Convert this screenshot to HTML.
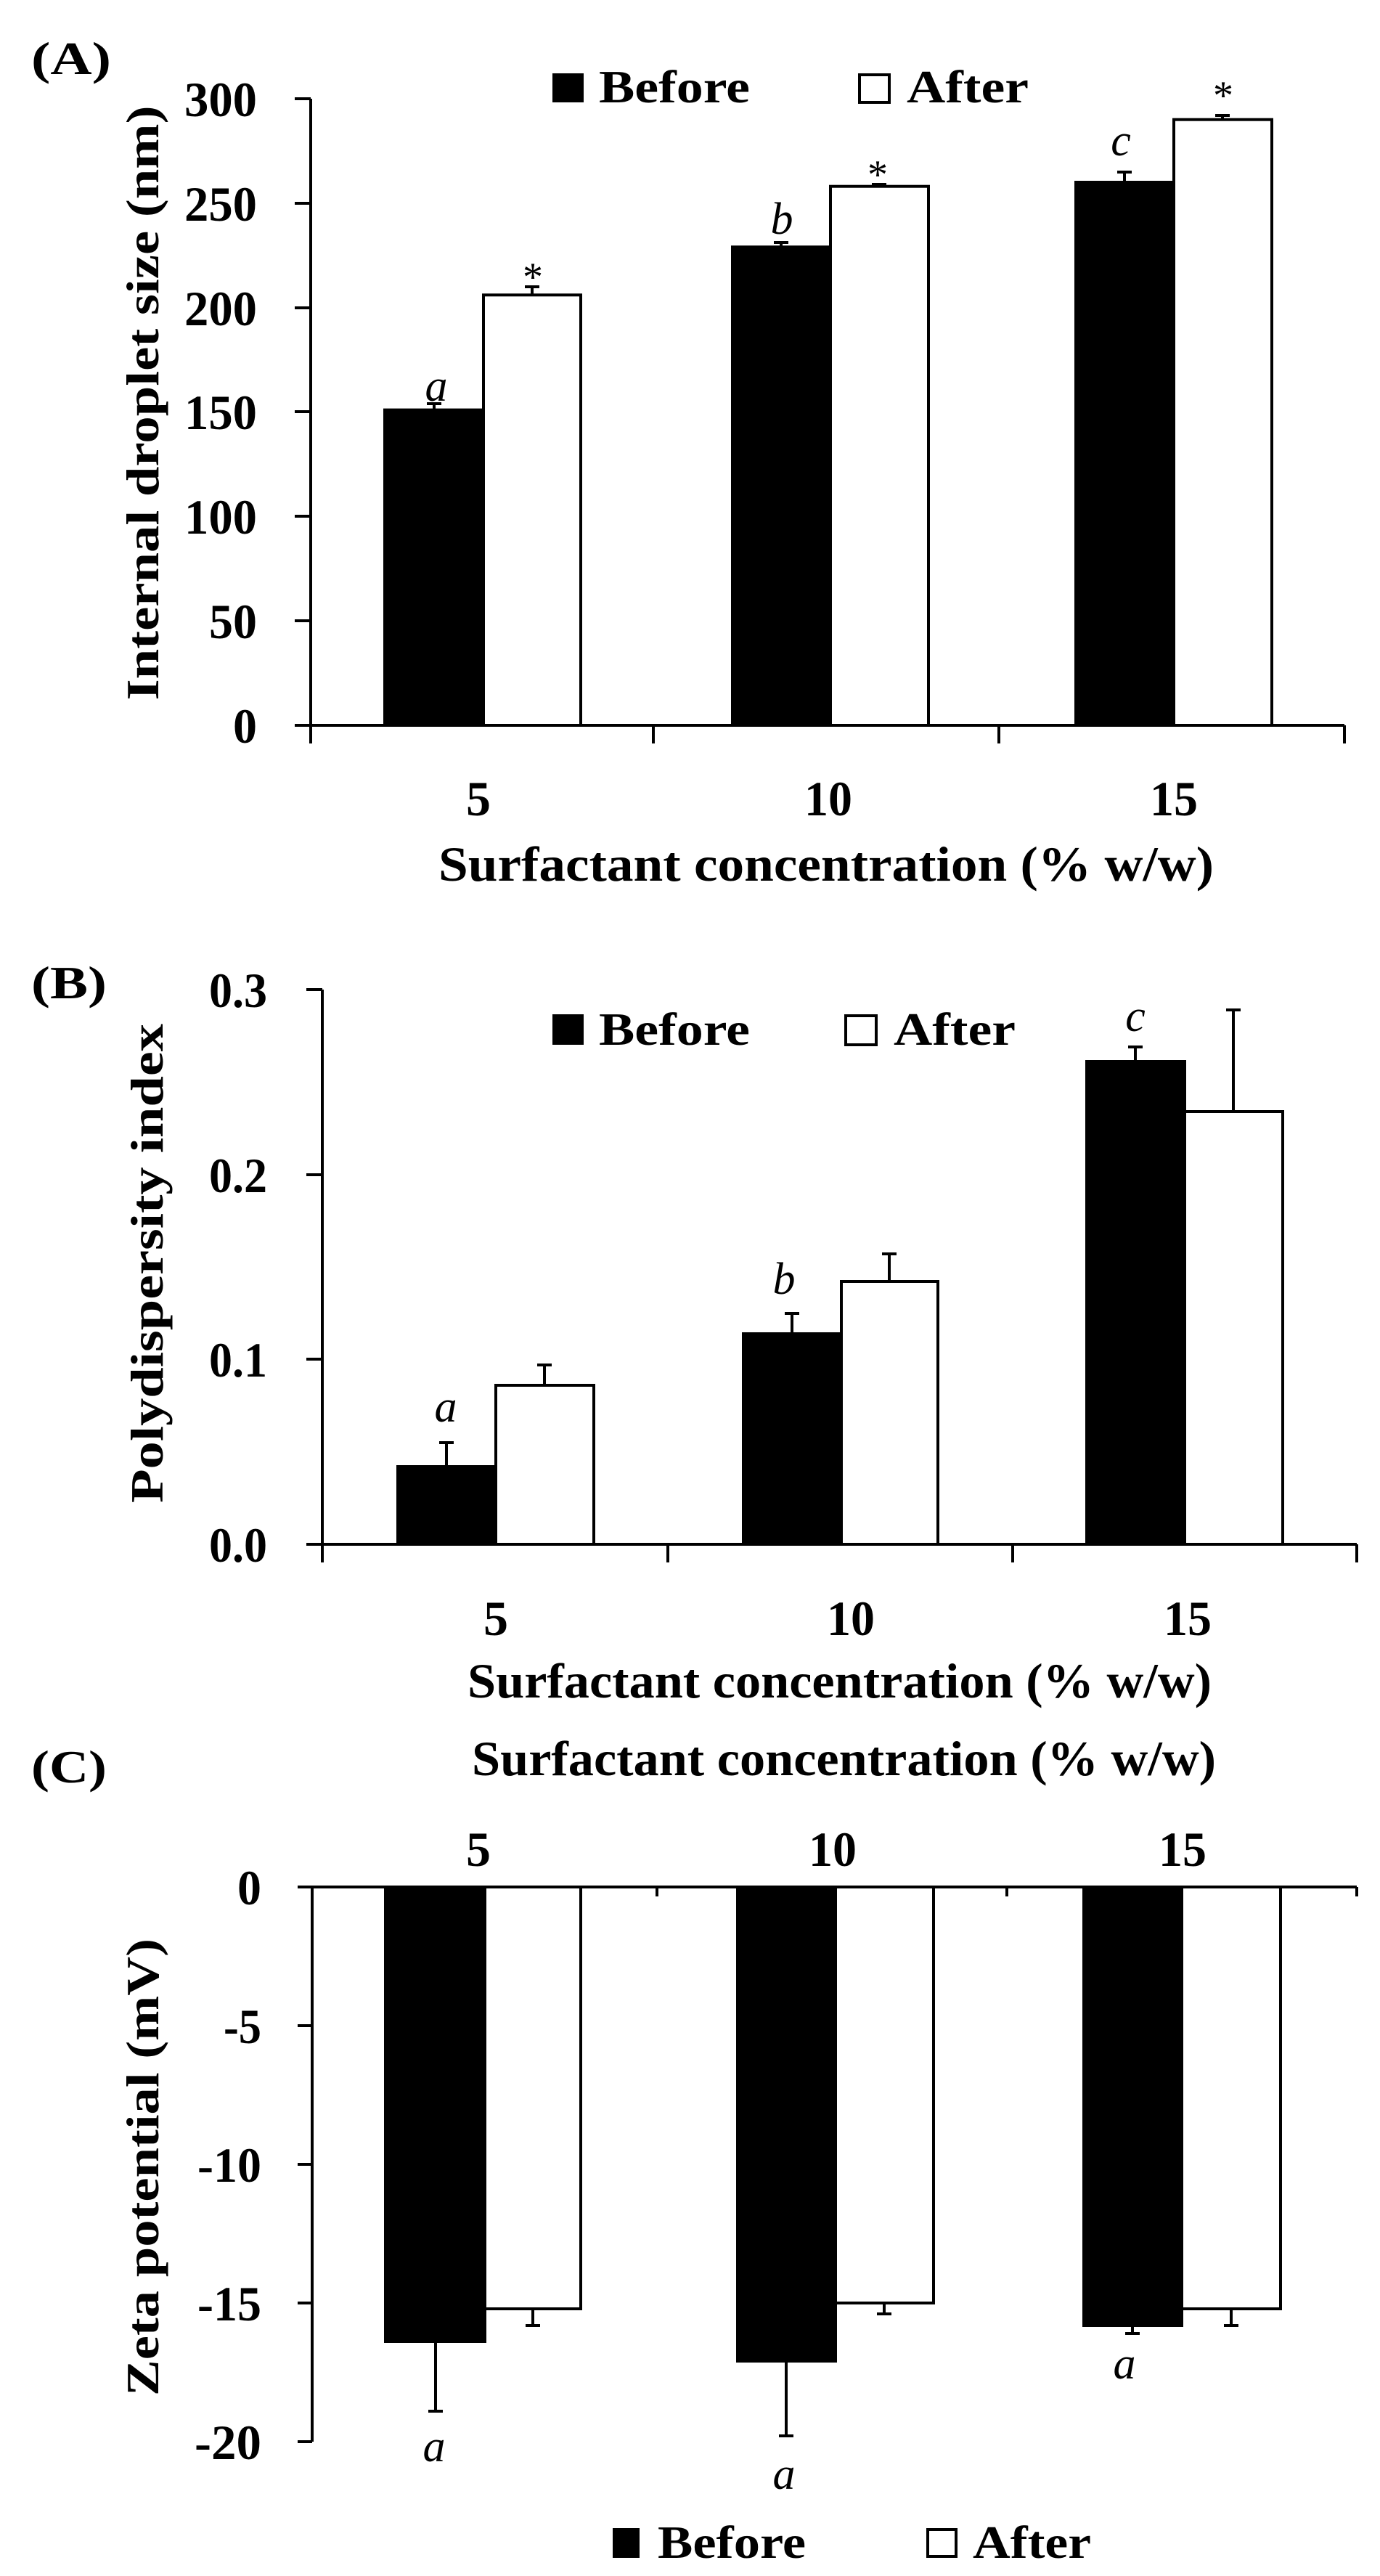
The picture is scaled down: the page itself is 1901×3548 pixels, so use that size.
<!DOCTYPE html>
<html><head><meta charset="utf-8"><style>
html,body{margin:0;padding:0;background:#fff}
svg{display:block}
text{font-family:"Liberation Serif",serif;font-weight:bold;fill:#000}
.t{font-size:68px}
.i{font-style:italic;font-weight:normal;font-size:62px}
</style></head><body>
<svg width="1901" height="3548" viewBox="0 0 1901 3548" xmlns="http://www.w3.org/2000/svg">
<rect width="1901" height="3548" fill="#fff"/>
<!-- ===== A ===== -->
<text x="43" y="102" font-size="64" textLength="110" lengthAdjust="spacingAndGlyphs">(A)</text>
<rect x="761" y="101" width="43" height="40" fill="#000"/>
<text x="825" y="141" font-size="64" textLength="208" lengthAdjust="spacingAndGlyphs">Before</text>
<rect x="1184" y="103" width="41" height="38" fill="#fff" stroke="#000" stroke-width="4"/>
<text x="1249" y="141" font-size="64" textLength="168" lengthAdjust="spacingAndGlyphs">After</text>
<text transform="translate(218,555) rotate(-90)" text-anchor="middle" font-size="64" textLength="819" lengthAdjust="spacingAndGlyphs">Internal droplet size (nm)</text>
<g class="t" text-anchor="end">
<text x="354" y="160" textLength="100" lengthAdjust="spacingAndGlyphs">300</text>
<text x="354" y="304" textLength="100" lengthAdjust="spacingAndGlyphs">250</text>
<text x="354" y="448" textLength="100" lengthAdjust="spacingAndGlyphs">200</text>
<text x="354" y="591" textLength="100" lengthAdjust="spacingAndGlyphs">150</text>
<text x="354" y="735" textLength="100" lengthAdjust="spacingAndGlyphs">100</text>
<text x="354" y="879" textLength="66" lengthAdjust="spacingAndGlyphs">50</text>
<text x="354" y="1023" textLength="33" lengthAdjust="spacingAndGlyphs">0</text>
</g>
<g stroke="#000" stroke-width="4" fill="none">
<path d="M428 136V999M406 136H428M406 280H428M406 424H428M406 567H428M406 711H428M406 855H428M406 999H1852M428 999V1024M900 999V1024M1376 999V1024M1852 999V1024"/>
</g>
<g stroke="#000" stroke-width="4">
<rect x="530" y="564.6" width="136" height="434.4" fill="#000"/>
<rect x="666" y="406.3" width="134" height="592.7" fill="#fff"/>
<rect x="1009" y="340.2" width="135" height="658.8" fill="#000"/>
<rect x="1144" y="256.7" width="135" height="742.3" fill="#fff"/>
<rect x="1482" y="251" width="135" height="748" fill="#000"/>
<rect x="1617" y="164.7" width="135" height="834.3" fill="#fff"/>
<path fill="none" d="M598 564V556M588 556H608M733 406V395M723 395H743M1076 340V334M1066 334H1086M1211 256V254M1201 254H1221M1549 251V237M1539 237H1559M1684 164V159M1674 159H1694"/>
</g>
<text class="i" x="601" y="552" text-anchor="middle">a</text>
<text class="i" x="1077" y="322" text-anchor="middle">b</text>
<text class="i" x="1544" y="214" text-anchor="middle">c</text>
<g font-size="56" font-weight="normal" text-anchor="middle"><text x="734" y="400" style="font-weight:normal">*</text><text x="1209" y="259" style="font-weight:normal">*</text><text x="1685" y="150" style="font-weight:normal">*</text></g>
<g class="t" text-anchor="middle">
<text x="659" y="1123" textLength="34" lengthAdjust="spacingAndGlyphs">5</text>
<text x="1141" y="1123" textLength="66" lengthAdjust="spacingAndGlyphs">10</text>
<text x="1617" y="1123" textLength="66" lengthAdjust="spacingAndGlyphs">15</text>
</g>
<text x="604" y="1213" font-size="68" textLength="1068" lengthAdjust="spacingAndGlyphs">Surfactant concentration (% w/w)</text>

<!-- ===== B ===== -->
<text x="43" y="1375" font-size="64" textLength="104" lengthAdjust="spacingAndGlyphs">(B)</text>
<rect x="761" y="1397" width="43" height="42" fill="#000"/>
<text x="825" y="1439" font-size="64" textLength="208" lengthAdjust="spacingAndGlyphs">Before</text>
<rect x="1165" y="1399" width="42" height="40" fill="#fff" stroke="#000" stroke-width="4"/>
<text x="1231" y="1439" font-size="64" textLength="168" lengthAdjust="spacingAndGlyphs">After</text>
<text transform="translate(224,1740) rotate(-90)" text-anchor="middle" font-size="64" textLength="660" lengthAdjust="spacingAndGlyphs">Polydispersity index</text>
<g class="t" text-anchor="end">
<text x="368" y="1387" textLength="80" lengthAdjust="spacingAndGlyphs">0.3</text>
<text x="368" y="1642" textLength="80" lengthAdjust="spacingAndGlyphs">0.2</text>
<text x="368" y="1896" textLength="80" lengthAdjust="spacingAndGlyphs">0.1</text>
<text x="368" y="2151" textLength="80" lengthAdjust="spacingAndGlyphs">0.0</text>
</g>
<g stroke="#000" stroke-width="4" fill="none">
<path d="M444 1363V2127M422 1363H444M422 1618H444M422 1872H444M422 2127H1869M444 2127V2152M920 2127V2152M1395 2127V2152M1869 2127V2152"/>
</g>
<g stroke="#000" stroke-width="4">
<rect x="548" y="2020" width="135" height="107" fill="#000"/>
<rect x="683" y="1908" width="135" height="219" fill="#fff"/>
<rect x="1024" y="1837" width="135" height="290" fill="#000"/>
<rect x="1159" y="1765" width="133" height="362" fill="#fff"/>
<rect x="1497" y="1462" width="135" height="665" fill="#000"/>
<rect x="1632" y="1531" width="135" height="596" fill="#fff"/>
<path fill="none" d="M615 2020V1987M605 1987H625M750 1908V1880M740 1880H760M1091 1837V1809M1081 1809H1101M1225 1765V1727M1215 1727H1235M1564 1462V1442M1554 1442H1574M1699 1531V1391M1689 1391H1709"/>
</g>
<text class="i" x="614" y="1958" text-anchor="middle">a</text>
<text class="i" x="1080" y="1782" text-anchor="middle">b</text>
<text class="i" x="1564" y="1420" text-anchor="middle">c</text>
<g class="t" text-anchor="middle">
<text x="683" y="2252" textLength="34" lengthAdjust="spacingAndGlyphs">5</text>
<text x="1172" y="2252" textLength="66" lengthAdjust="spacingAndGlyphs">10</text>
<text x="1636" y="2252" textLength="66" lengthAdjust="spacingAndGlyphs">15</text>
</g>
<text x="644" y="2338" font-size="68" textLength="1025" lengthAdjust="spacingAndGlyphs">Surfactant concentration (% w/w)</text>

<!-- ===== C ===== -->
<text x="43" y="2455" font-size="64" textLength="104" lengthAdjust="spacingAndGlyphs">(C)</text>
<text x="650" y="2445" font-size="68" textLength="1025" lengthAdjust="spacingAndGlyphs">Surfactant concentration (% w/w)</text>
<g class="t" text-anchor="middle">
<text x="659" y="2570" textLength="34" lengthAdjust="spacingAndGlyphs">5</text>
<text x="1147" y="2570" textLength="66" lengthAdjust="spacingAndGlyphs">10</text>
<text x="1629" y="2570" textLength="66" lengthAdjust="spacingAndGlyphs">15</text>
</g>
<text transform="translate(218,2985) rotate(-90)" text-anchor="middle" font-size="64" textLength="630" lengthAdjust="spacingAndGlyphs">Zeta potential (mV)</text>
<g class="t" text-anchor="end">
<text x="360" y="2623" textLength="33" lengthAdjust="spacingAndGlyphs">0</text>
<text x="360" y="2814" textLength="52" lengthAdjust="spacingAndGlyphs">-5</text>
<text x="360" y="3005" textLength="88" lengthAdjust="spacingAndGlyphs">-10</text>
<text x="360" y="3196" textLength="88" lengthAdjust="spacingAndGlyphs">-15</text>
<text x="360" y="3387" textLength="92" lengthAdjust="spacingAndGlyphs">-20</text>
</g>
<g stroke="#000" stroke-width="4">
<rect x="531" y="2599" width="137" height="626" fill="#000"/>
<rect x="668" y="2599" width="132" height="581" fill="#fff"/>
<rect x="1016" y="2599" width="135" height="653" fill="#000"/>
<rect x="1151" y="2599" width="135" height="573" fill="#fff"/>
<rect x="1493" y="2599" width="135" height="604" fill="#000"/>
<rect x="1628" y="2599" width="136" height="581" fill="#fff"/>
<path fill="none" d="M600 3225V3321M590 3321H610M734 3180V3203M724 3203H744M1083 3252V3355M1073 3355H1093M1218 3172V3187M1208 3187H1228M1560 3203V3214M1550 3214H1570M1696 3180V3203M1686 3203H1706"/>
</g>
<g stroke="#000" stroke-width="4" fill="none">
<path d="M430 2599V3363M410 2790H430M410 2981H430M410 3172H430M410 3363H430M410 2599H1869M905 2599V2612M1387 2599V2612M1869 2599V2612"/>
</g>
<text class="i" x="598" y="3390" text-anchor="middle">a</text>
<text class="i" x="1080" y="3428" text-anchor="middle">a</text>
<text class="i" x="1549" y="3276" text-anchor="middle">a</text>
<rect x="844" y="3482" width="37" height="41" fill="#000"/>
<text x="906" y="3523" font-size="64" textLength="204" lengthAdjust="spacingAndGlyphs">Before</text>
<rect x="1278" y="3484" width="39" height="37" fill="#fff" stroke="#000" stroke-width="4"/>
<text x="1340" y="3523" font-size="64" textLength="163" lengthAdjust="spacingAndGlyphs">After</text>
</svg>
</body></html>
